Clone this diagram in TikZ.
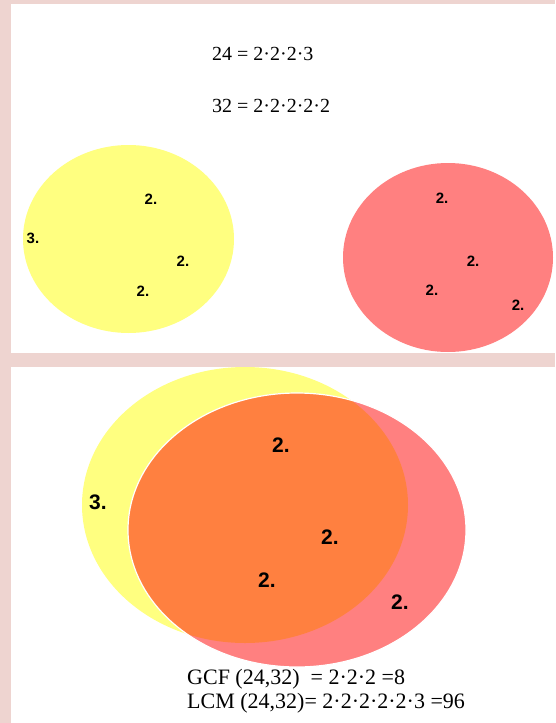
\documentclass[tikz,border=0pt]{standalone}
\usepackage{fontspec}
\setmainfont{Liberation Serif}
\newfontfamily\labelfont{Liberation Sans}
\usetikzlibrary{positioning}

\definecolor{panelpink}{RGB}{238,212,208}
\definecolor{setyellow}{RGB}{255,255,128}
\definecolor{setred}{RGB}{255,128,128}
\definecolor{setorange}{RGB}{255,128,64}

\begin{document}
\begin{tikzpicture}[x=1pt, y=-1pt,
  factor/.style={font=\labelfont\bfseries\fontsize{15}{15}\selectfont, inner sep=0pt},
  bigfactor/.style={font=\labelfont\bfseries\fontsize{21}{21}\selectfont, inner sep=0pt},
  eqn/.style={font=\fontsize{20}{20}\selectfont, inner sep=0pt, anchor=base west},
  result/.style={font=\fontsize{22}{22}\selectfont, inner sep=0pt, anchor=base west}]
\useasboundingbox (0,0) rectangle (555,723);
\fill[panelpink] (0,0) rectangle (555,723);
\fill[white] (11,4) rectangle (555,353);
\fill[white] (11,367) rectangle (555,723);

% top panel: the two factorisations
\node[eqn] (f24) at (212,60) {24 = 2·2·2·3};
\node[eqn] (f32) at (212,112) {32 = 2·2·2·2·2};

\fill[setyellow] (128.5,239) ellipse [x radius=105.5, y radius=94];
\fill[setred] (448,257.5) ellipse [x radius=105, y radius=94.5];

\node[factor] (ya) at (151,199) {2.};
\node[factor] (yb) at (33,238) {3.};
\node[factor] (yc) at (183,261) {2.};
\node[factor] (yd) at (143,291) {2.};

\node[factor] (ra) at (442,198) {2.};
\node[factor] (rb) at (473,261) {2.};
\node[factor] (rc) at (432,290) {2.};
\node[factor] (rd) at (518,305) {2.};

% bottom panel: overlapping sets
\begin{scope}
  \clip (11,367) rectangle (555,723);
  \fill[setyellow] (245,505) ellipse [x radius=163, y radius=138];
  \fill[setred] (297,530) ellipse [x radius=169, y radius=137];
  \begin{scope}
    \clip (245,505) ellipse [x radius=163, y radius=138];
    \fill[setorange] (297,530) ellipse [x radius=169, y radius=137];
  \end{scope}
  \draw[white, line width=1.2pt] (297,530) ellipse [x radius=169, y radius=137];
\end{scope}

\node[bigfactor] (oa) at (281,445) {2.};
\node[bigfactor] (ob) at (98,502) {3.};
\node[bigfactor] (oc) at (330,537) {2.};
\node[bigfactor] (od) at (267,580) {2.};
\node[bigfactor] (oe) at (400,602) {2.};

\node[result] (gcf) at (187,684) {GCF (24,32)~~= 2·2·2 =8};
\node[result] (lcm) at (187,708) {LCM (24,32)= 2·2·2·2·2·3 =96};
\end{tikzpicture}
\end{document}
